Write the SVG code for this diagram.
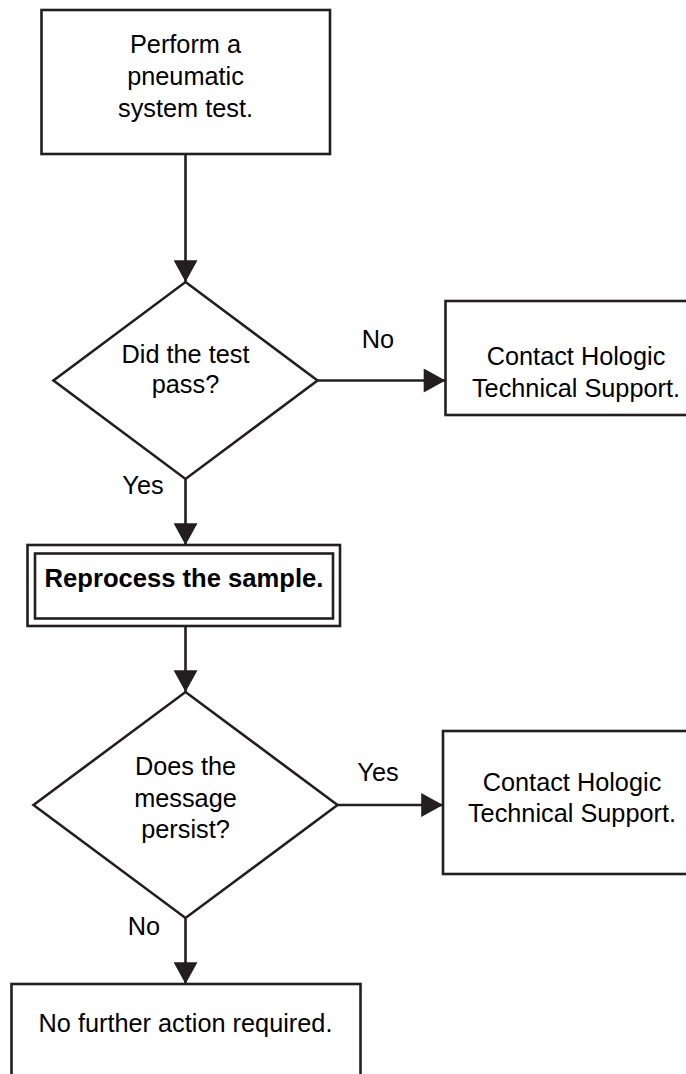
<svg xmlns="http://www.w3.org/2000/svg" width="686" height="1074" viewBox="0 0 686 1074">
<defs>
<style>
.s{fill:#fff;stroke:#231f20;stroke-width:2.6}
.c{fill:none;stroke:#231f20;stroke-width:2.6}
.t{font-family:"Liberation Sans",Arial,Helvetica,sans-serif;font-size:25.3px;fill:#000;text-anchor:middle}
.b{font-weight:bold;font-size:25.6px}
</style>
<marker id="ah" markerUnits="userSpaceOnUse" markerWidth="24" markerHeight="24" viewBox="0 0 20 22" refX="20" refY="11" orient="auto">
<path d="M0,0 L20,11 L0,22 Z" fill="#231f20"/>
</marker>
</defs>
<rect width="686" height="1074" fill="#fff"/>
<g id="connectors">
<line class="c" x1="185.5" y1="154" x2="185.5" y2="282" marker-end="url(#ah)"/>
<line class="c" x1="317" y1="380.5" x2="445.5" y2="380.5" marker-end="url(#ah)"/>
<line class="c" x1="185.5" y1="479" x2="185.5" y2="545" marker-end="url(#ah)"/>
<line class="c" x1="185.5" y1="626" x2="185.5" y2="692" marker-end="url(#ah)"/>
<line class="c" x1="337" y1="805" x2="443" y2="805" marker-end="url(#ah)"/>
<line class="c" x1="185.5" y1="918" x2="185.5" y2="984" marker-end="url(#ah)"/>
<text class="t" x="378" y="348">No</text>
<text class="t" x="143" y="494">Yes</text>
<text class="t" x="378" y="781">Yes</text>
<text class="t" x="144" y="935">No</text>
</g>
<g id="n1">
<rect class="s" x="41.5" y="10" width="288.5" height="144"/>
<text class="t" x="185.5" y="53">Perform a</text>
<text class="t" x="185.5" y="85">pneumatic</text>
<text class="t" x="185.5" y="117">system test.</text>
</g>
<g id="d1">
<polygon class="s" points="185.5,282 317.5,380.5 185.5,479 53.5,380.5"/>
<text class="t" x="185.5" y="363">Did the test</text>
<text class="t" x="185.5" y="393">pass?</text>
</g>
<g id="n2">
<rect class="s" x="445.5" y="301" width="270" height="114"/>
<text class="t" x="576" y="365">Contact Hologic</text>
<text class="t" x="576" y="397">Technical Support.</text>
</g>
<g id="n3">
<rect class="s" x="27.5" y="545" width="312.5" height="81"/>
<rect class="s" x="35" y="553.5" width="298" height="65"/>
<text class="t b" x="184" y="587">Reprocess the sample.</text>
</g>
<g id="d2">
<polygon class="s" points="185.5,692 337.5,805 185.5,918 33.5,805"/>
<text class="t" x="185.5" y="775">Does the</text>
<text class="t" x="185.5" y="807">message</text>
<text class="t" x="185.5" y="838">persist?</text>
</g>
<g id="n4">
<rect class="s" x="443" y="731" width="270" height="143"/>
<text class="t" x="572" y="791">Contact Hologic</text>
<text class="t" x="572" y="822">Technical Support.</text>
</g>
<g id="n5">
<rect class="s" x="11.5" y="984" width="349" height="110"/>
<text class="t" x="185.5" y="1032">No further action required.</text>
</g>
</svg>
